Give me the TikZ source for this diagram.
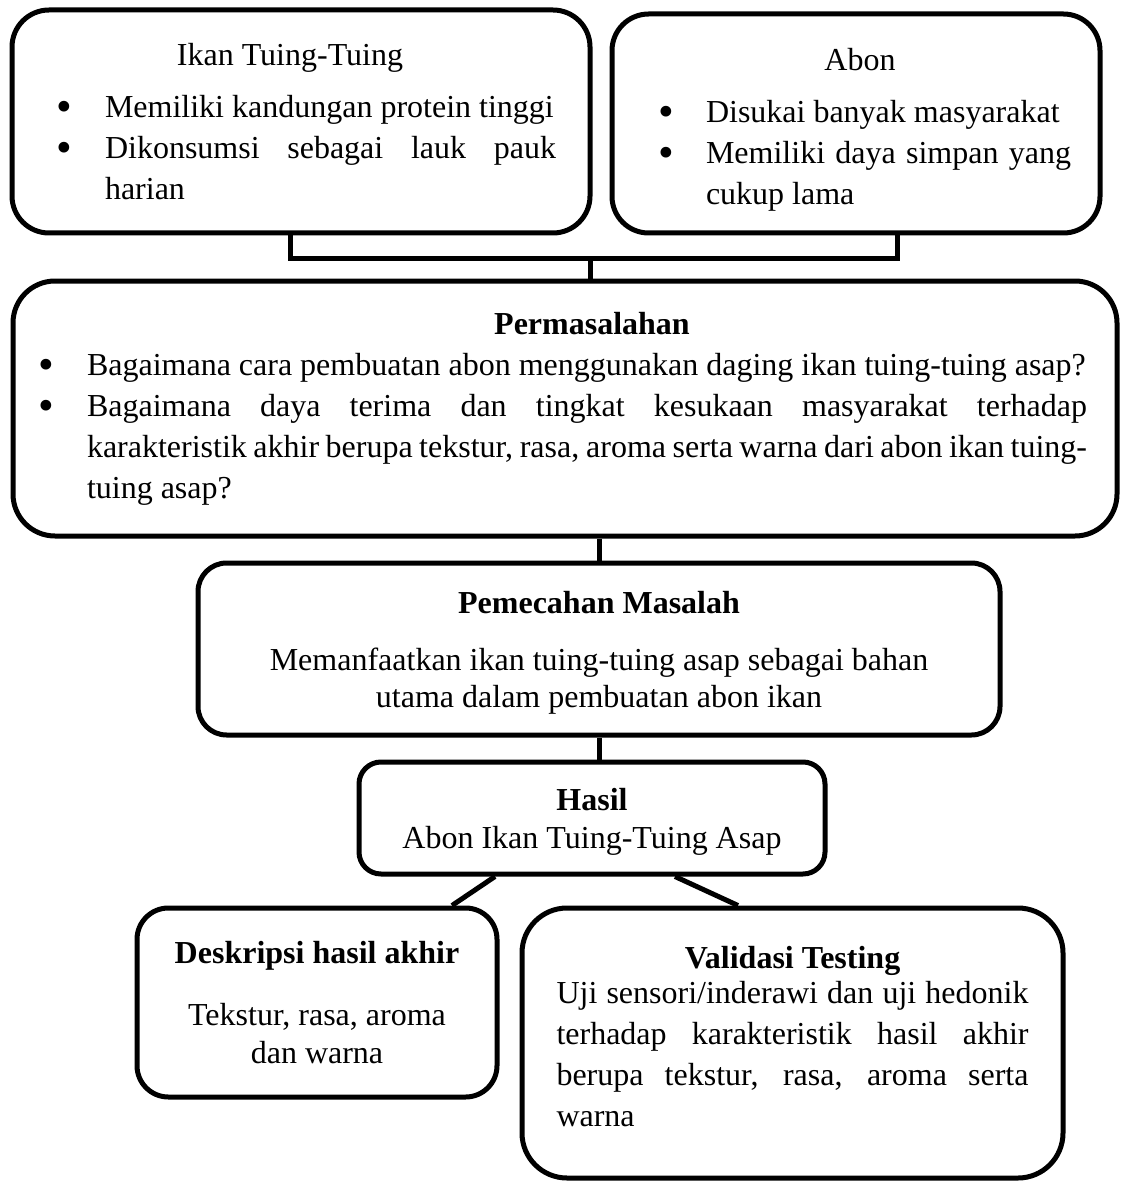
\documentclass[tikz,border=0pt]{standalone}
\usepackage{fontspec}
\setmainfont{Liberation Serif}
\hyphenpenalty=10000

% one bullet item inside a box
\newcommand{\butir}[1]{\par\noindent\hangindent=24pt\hangafter=1\makebox[24pt][l]{\raisebox{-2pt}{\scalebox{1.4}{\textbullet}}}#1}

\begin{document}
\begin{tikzpicture}[x=0.5pt, y=-0.5pt,
    kotak/.style={draw, line width=2.5pt, inner sep=0pt, font=\fontsize{16}{20.5}\selectfont},
    garis/.style={line width=2.5pt}]

        \useasboundingbox (0,0) rectangle (1120,1182);

        % Define points of the bracket and the branches
        \coordinate (kiri) at (290,258);    % under Ikan Tuing-Tuing
        \coordinate (kanan) at (897,258);   % under Abon
        \coordinate (tengah) at (590,258);  % down to Permasalahan
        \coordinate (k1) at (495,874);      % Hasil, left branch
        \coordinate (k2) at (452,908);      % Deskripsi
        \coordinate (k3) at (675,874);      % Hasil, right branch
        \coordinate (k4) at (738,908);      % Validasi

        % Top boxes
        \node[kotak, minimum width=289pt, minimum height=111.5pt, rounded corners=18.5pt, text width=255pt, align=justify]
            (ikan) at (301,121.5) {{\centering\hspace*{-11pt}Ikan Tuing-Tuing\par}\vspace{5.5pt}\leftskip=5.5pt
            \butir{Memiliki kandungan protein tinggi}
            \butir{Dikonsumsi sebagai lauk pauk\linebreak harian}\par};
        \node[kotak, minimum width=244pt, minimum height=109.5pt, rounded corners=18.3pt, text width=215pt, align=justify]
            (abon) at (856,123.5) {{\centering\rule{0pt}{17pt}\hspace*{4pt}Abon\par}\vspace{5.5pt}\leftskip=8.5pt
            \butir{Disukai banyak masyarakat}
            \butir{Memiliki daya simpan yang\linebreak cukup lama}\par};

        % Permasalahan
        \node[kotak, minimum width=552pt, minimum height=127.5pt, rounded corners=21pt, text width=522pt, align=justify]
            (masalah) at (565,408.5) {{\centering\hspace*{27pt}\textbf{Permasalahan}\par}\leftskip=-2pt
            \butir{Bagaimana cara pembuatan abon menggunakan daging ikan tuing-tuing asap?}
            \butir{Bagaimana daya terima dan tingkat kesukaan masyarakat terhadap\linebreak karakteristik akhir berupa tekstur, rasa, aroma serta warna dari abon ikan tuing-\linebreak tuing asap?}\par};

        % Pemecahan Masalah and Hasil
        \node[kotak, minimum width=401pt, minimum height=86pt, rounded corners=14.3pt, align=center]
            (solusi) at (599,649) {\rule{0pt}{15pt}\textbf{Pemecahan Masalah}\\[8pt]
            Memanfaatkan ikan tuing-tuing asap sebagai bahan\\[-2pt]utama dalam pembuatan abon ikan};
        \node[kotak, minimum width=233pt, minimum height=56pt, rounded corners=11pt, align=center]
            (hasil) at (592,818) {\rule{0pt}{15pt}\textbf{Hasil}\\[-1.5pt]Abon Ikan Tuing-Tuing Asap};

        % Bottom boxes
        \node[kotak, minimum width=180pt, minimum height=94.5pt, rounded corners=15.7pt, align=center]
            (deskripsi) at (317,1002.5) {\textbf{Deskripsi hasil akhir}\\[10.5pt]Tekstur, rasa, aroma\\[-1.5pt]dan warna};
        \node[kotak, minimum width=270.5pt, minimum height=135pt, rounded corners=22.5pt, text width=236pt, align=justify]
            (validasi) at (792.5,1043) {{\centering\textbf{Validasi Testing}\par}\vspace{-3pt}
            Uji sensori/inderawi dan uji hedonik\linebreak terhadap karakteristik hasil akhir\linebreak berupa tekstur, rasa, aroma serta\linebreak warna\rule[-7pt]{0pt}{7pt}\par};

        % Draw the connectors
        \draw[garis] (ikan.south -| kiri) -- (kiri) -- (kanan) -- (abon.south -| kanan);
        \draw[garis] (tengah) -- (masalah.north -| tengah);
        \draw[garis] (masalah.south -| solusi.north) -- (solusi.north);
        \draw[garis] (solusi.south) -- (hasil.north -| solusi.south);
        \draw[garis] (hasil.south -| k1) -- (deskripsi.north -| k2);
        \draw[garis] (hasil.south -| k3) -- (validasi.north -| k4);

\end{tikzpicture}
\end{document}
